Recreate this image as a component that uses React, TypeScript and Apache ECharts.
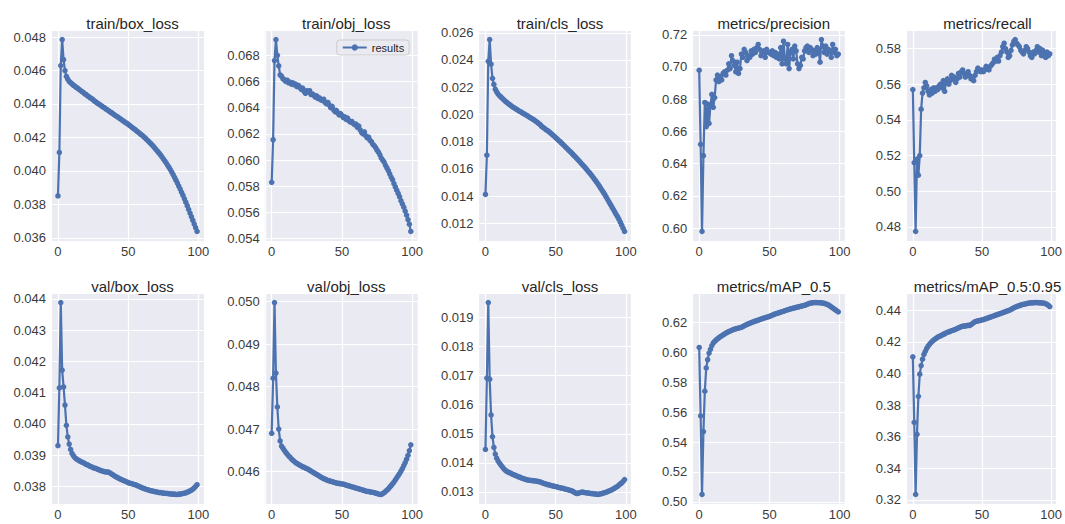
import React, { useEffect, useRef } from "react";
import * as echarts from "echarts";

const epochs: number[] = Array.from({ length: 100 }, (_, i) => i);

const trainBoxLoss = [
  0.03850, 0.04110, 0.04630, 0.04785, 0.04665, 0.04600, 0.04565, 0.04548, 0.04535, 0.04527,
  0.04520, 0.04512, 0.04507, 0.04499, 0.04495, 0.04487, 0.04482, 0.04474, 0.04470, 0.04461,
  0.04457, 0.04449, 0.04444, 0.04436, 0.04432, 0.04426, 0.04417, 0.04413, 0.04405, 0.04400,
  0.04394, 0.04389, 0.04382, 0.04378, 0.04371, 0.04366, 0.04360, 0.04353, 0.04349, 0.04342,
  0.04337, 0.04331, 0.04325, 0.04320, 0.04313, 0.04308, 0.04301, 0.04296, 0.04289, 0.04285,
  0.04278, 0.04272, 0.04265, 0.04259, 0.04252, 0.04246, 0.04239, 0.04232, 0.04226, 0.04218,
  0.04212, 0.04205, 0.04197, 0.04189, 0.04181, 0.04172, 0.04164, 0.04155, 0.04146, 0.04136,
  0.04126, 0.04116, 0.04106, 0.04095, 0.04084, 0.04072, 0.04060, 0.04048, 0.04035, 0.04022,
  0.04008, 0.03993, 0.03977, 0.03961, 0.03944, 0.03927, 0.03909, 0.03891, 0.03872, 0.03853,
  0.03833, 0.03813, 0.03792, 0.03770, 0.03748, 0.03726, 0.03704, 0.03682, 0.03660, 0.03638,
];

const trainObjLoss = [
  0.05830, 0.06155, 0.06760, 0.06920, 0.06800, 0.06720, 0.06650, 0.06640, 0.06620, 0.06615,
  0.06600, 0.06610, 0.06590, 0.06595, 0.06580, 0.06590, 0.06575, 0.06580, 0.06560, 0.06570,
  0.06555, 0.06540, 0.06550, 0.06525, 0.06510, 0.06530, 0.06520, 0.06530, 0.06500, 0.06505,
  0.06495, 0.06480, 0.06490, 0.06470, 0.06475, 0.06460, 0.06455, 0.06465, 0.06440, 0.06430,
  0.06440, 0.06420, 0.06400, 0.06410, 0.06385, 0.06370, 0.06380, 0.06360, 0.06345, 0.06355,
  0.06340, 0.06325, 0.06330, 0.06310, 0.06320, 0.06300, 0.06290, 0.06295, 0.06280, 0.06270,
  0.06275, 0.06250, 0.06260, 0.06230, 0.06210, 0.06200, 0.06215, 0.06185, 0.06170, 0.06175,
  0.06150, 0.06140, 0.06120, 0.06110, 0.06095, 0.06075, 0.06060, 0.06040, 0.06015, 0.06000,
  0.05985, 0.05960, 0.05940, 0.05920, 0.05895, 0.05870, 0.05850, 0.05820, 0.05795, 0.05770,
  0.05745, 0.05720, 0.05690, 0.05665, 0.05640, 0.05610, 0.05580, 0.05545, 0.05510, 0.05455,
];

const trainClsLoss = [
  0.01412, 0.01700, 0.02390, 0.02550, 0.02370, 0.02265, 0.02220, 0.02185, 0.02165, 0.02150,
  0.02138, 0.02128, 0.02118, 0.02108, 0.02098, 0.02090, 0.02082, 0.02073, 0.02066, 0.02058,
  0.02051, 0.02045, 0.02038, 0.02032, 0.02025, 0.02020, 0.02013, 0.02007, 0.02001, 0.01995,
  0.01989, 0.01982, 0.01976, 0.01969, 0.01963, 0.01956, 0.01948, 0.01941, 0.01932, 0.01925,
  0.01912, 0.01905, 0.01897, 0.01889, 0.01882, 0.01875, 0.01866, 0.01857, 0.01848, 0.01839,
  0.01830, 0.01820, 0.01810, 0.01801, 0.01790, 0.01781, 0.01771, 0.01760, 0.01751, 0.01740,
  0.01730, 0.01720, 0.01709, 0.01698, 0.01688, 0.01676, 0.01665, 0.01654, 0.01642, 0.01631,
  0.01620, 0.01608, 0.01596, 0.01584, 0.01572, 0.01560, 0.01546, 0.01532, 0.01518, 0.01504,
  0.01490, 0.01474, 0.01458, 0.01442, 0.01426, 0.01410, 0.01392, 0.01374, 0.01356, 0.01338,
  0.01320, 0.01302, 0.01284, 0.01266, 0.01248, 0.01230, 0.01208, 0.01186, 0.01163, 0.01140,
];

const precision = [
  0.698, 0.652, 0.598, 0.645, 0.678, 0.663, 0.677, 0.665, 0.676, 0.683,
  0.675, 0.681, 0.692, 0.695, 0.691, 0.694, 0.692, 0.696, 0.697, 0.695,
  0.698, 0.702, 0.699, 0.707, 0.704, 0.701, 0.697, 0.703, 0.696, 0.699,
  0.708, 0.706, 0.711, 0.709, 0.704, 0.707, 0.706, 0.710, 0.708, 0.711,
  0.709, 0.712, 0.714, 0.711, 0.707, 0.709, 0.710, 0.706, 0.711, 0.709,
  0.709, 0.708, 0.710, 0.707, 0.709, 0.706, 0.708, 0.705, 0.712, 0.702,
  0.716, 0.705, 0.702, 0.714, 0.699, 0.709, 0.711, 0.705, 0.713, 0.710,
  0.702, 0.699, 0.701, 0.706, 0.705, 0.710, 0.712, 0.713, 0.709, 0.712,
  0.711, 0.707, 0.710, 0.708, 0.712, 0.710, 0.703, 0.717, 0.713, 0.709,
  0.713, 0.708, 0.711, 0.710, 0.706, 0.714, 0.709, 0.711, 0.707, 0.708,
];

const recall = [
  0.557, 0.516, 0.4775, 0.518, 0.509, 0.520, 0.546, 0.555, 0.558, 0.561,
  0.559, 0.556, 0.554, 0.557, 0.555, 0.558, 0.556, 0.558, 0.557, 0.559,
  0.560, 0.558, 0.562, 0.556, 0.561, 0.563, 0.560, 0.562, 0.565, 0.563,
  0.564, 0.561, 0.563, 0.566, 0.564, 0.567, 0.568, 0.566, 0.564, 0.565,
  0.567, 0.565, 0.563, 0.564, 0.562, 0.565, 0.567, 0.569, 0.568, 0.567,
  0.568, 0.567, 0.568, 0.570, 0.569, 0.568, 0.570, 0.571, 0.572, 0.574,
  0.573, 0.575, 0.573, 0.576, 0.578, 0.581, 0.583, 0.580, 0.578, 0.575,
  0.576, 0.579, 0.582, 0.584, 0.585, 0.583, 0.582, 0.581, 0.579, 0.578,
  0.577, 0.579, 0.581, 0.580, 0.578, 0.576, 0.575, 0.578, 0.577, 0.579,
  0.581, 0.578, 0.580, 0.576, 0.579, 0.577, 0.575, 0.578, 0.576, 0.577,
];

const valBoxLoss = [
  0.03930, 0.04115, 0.04388, 0.04172, 0.04118, 0.04060, 0.03995, 0.03958, 0.03935, 0.03918,
  0.03905, 0.03898, 0.03892, 0.03888, 0.03885, 0.03882, 0.03880, 0.03877, 0.03876, 0.03873,
  0.03870, 0.03869, 0.03866, 0.03864, 0.03862, 0.03860, 0.03858, 0.03857, 0.03855, 0.03853,
  0.03851, 0.03850, 0.03848, 0.03847, 0.03846, 0.03846, 0.03845, 0.03843, 0.03840, 0.03837,
  0.03834, 0.03831, 0.03829, 0.03826, 0.03824, 0.03822, 0.03820, 0.03818, 0.03816, 0.03814,
  0.03812, 0.03810, 0.03809, 0.03808, 0.03806, 0.03805, 0.03803, 0.03801, 0.03799, 0.03797,
  0.03795, 0.03793, 0.03792, 0.03790, 0.03789, 0.03787, 0.03786, 0.03785, 0.03784, 0.03783,
  0.03782, 0.03781, 0.03780, 0.03780, 0.03779, 0.03778, 0.03778, 0.03777, 0.03777, 0.03776,
  0.03776, 0.03775, 0.03775, 0.03775, 0.03774, 0.03774, 0.03775, 0.03775, 0.03776, 0.03777,
  0.03778, 0.03779, 0.03781, 0.03783, 0.03785, 0.03788, 0.03791, 0.03795, 0.03800, 0.03805,
];

const valObjLoss = [
  0.04690, 0.04820, 0.04998, 0.04832, 0.04752, 0.04700, 0.04672, 0.04660, 0.04655, 0.04650,
  0.04645, 0.04641, 0.04637, 0.04634, 0.04630, 0.04627, 0.04624, 0.04621, 0.04619, 0.04617,
  0.04615, 0.04613, 0.04611, 0.04610, 0.04608, 0.04607, 0.04605, 0.04603, 0.04601, 0.04599,
  0.04597, 0.04595, 0.04593, 0.04591, 0.04589, 0.04587, 0.04585, 0.04583, 0.04582, 0.04580,
  0.04579, 0.04578, 0.04577, 0.04576, 0.04575, 0.04574, 0.04573, 0.04572, 0.04572, 0.04571,
  0.04571, 0.04570, 0.04569, 0.04568, 0.04567, 0.04566, 0.04565, 0.04564, 0.04563, 0.04562,
  0.04561, 0.04560, 0.04559, 0.04558, 0.04557, 0.04556, 0.04555, 0.04554, 0.04553, 0.04553,
  0.04552, 0.04551, 0.04551, 0.04550, 0.04549, 0.04548, 0.04547, 0.04546, 0.04546, 0.04548,
  0.04550, 0.04553, 0.04556, 0.04559, 0.04563, 0.04567, 0.04571, 0.04575, 0.04580, 0.04585,
  0.04590, 0.04595, 0.04601, 0.04607, 0.04614, 0.04621, 0.04629, 0.04638, 0.04649, 0.04663,
];

const valClsLoss = [
  0.01446, 0.01692, 0.01952, 0.01688, 0.01565, 0.01490, 0.01453, 0.01430, 0.01416, 0.01406,
  0.01399, 0.01392, 0.01386, 0.01380, 0.01375, 0.01371, 0.01368, 0.01366, 0.01364, 0.01361,
  0.01359, 0.01357, 0.01355, 0.01353, 0.01351, 0.01349, 0.01347, 0.01345, 0.01344, 0.01342,
  0.01341, 0.01340, 0.01339, 0.01339, 0.01338, 0.01338, 0.01337, 0.01336, 0.01335, 0.01334,
  0.01332, 0.01330, 0.01328, 0.01327, 0.01325, 0.01324, 0.01323, 0.01321, 0.01320, 0.01319,
  0.01318, 0.01317, 0.01315, 0.01314, 0.01313, 0.01312, 0.01311, 0.01309, 0.01308, 0.01307,
  0.01305, 0.01304, 0.01302, 0.01299, 0.01296, 0.01294, 0.01295, 0.01297, 0.01298, 0.01299,
  0.01298, 0.01297, 0.01296, 0.01296, 0.01295, 0.01294, 0.01294, 0.01293, 0.01292, 0.01292,
  0.01291, 0.01292, 0.01293, 0.01294, 0.01296, 0.01297, 0.01299, 0.01301, 0.01303, 0.01305,
  0.01307, 0.01310, 0.01313, 0.01316, 0.01319, 0.01323, 0.01327, 0.01331, 0.01336, 0.01342,
];

const map50 = [
  0.6032, 0.5575, 0.5050, 0.5470, 0.5740, 0.5895, 0.5950, 0.5995, 0.6020, 0.6045,
  0.6062, 0.6072, 0.6082, 0.6090, 0.6097, 0.6104, 0.6110, 0.6117, 0.6122, 0.6128,
  0.6133, 0.6138, 0.6142, 0.6147, 0.6150, 0.6154, 0.6157, 0.6159, 0.6162, 0.6164,
  0.6167, 0.6172, 0.6177, 0.6182, 0.6186, 0.6190, 0.6194, 0.6198, 0.6202, 0.6205,
  0.6209, 0.6212, 0.6215, 0.6218, 0.6222, 0.6225, 0.6228, 0.6231, 0.6234, 0.6237,
  0.6240, 0.6244, 0.6248, 0.6252, 0.6256, 0.6259, 0.6262, 0.6265, 0.6268, 0.6271,
  0.6274, 0.6278, 0.6281, 0.6284, 0.6287, 0.6290, 0.6292, 0.6295, 0.6297, 0.6300,
  0.6302, 0.6304, 0.6307, 0.6309, 0.6311, 0.6314, 0.6317, 0.6321, 0.6325, 0.6328,
  0.6330, 0.6331, 0.6332, 0.6332, 0.6332, 0.6331, 0.6331, 0.6330, 0.6329, 0.6327,
  0.6324, 0.6320, 0.6316, 0.6310, 0.6303, 0.6296, 0.6290, 0.6283, 0.6277, 0.6270,
];

const map5095 = [
  0.4105, 0.3690, 0.3235, 0.3615, 0.3855, 0.3995, 0.4050, 0.4090, 0.4120, 0.4140,
  0.4158, 0.4172, 0.4184, 0.4194, 0.4203, 0.4210, 0.4217, 0.4223, 0.4229, 0.4234,
  0.4238, 0.4243, 0.4247, 0.4251, 0.4256, 0.4260, 0.4263, 0.4266, 0.4270, 0.4273,
  0.4276, 0.4280, 0.4284, 0.4288, 0.4292, 0.4296, 0.4298, 0.4300, 0.4300, 0.4302,
  0.4305, 0.4303, 0.4308, 0.4315, 0.4322, 0.4327, 0.4330, 0.4332, 0.4334, 0.4336,
  0.4338, 0.4341, 0.4344, 0.4347, 0.4350, 0.4353, 0.4356, 0.4359, 0.4362, 0.4366,
  0.4369, 0.4372, 0.4375, 0.4378, 0.4381, 0.4384, 0.4387, 0.4391, 0.4394, 0.4397,
  0.4401, 0.4405, 0.4410, 0.4415, 0.4419, 0.4423, 0.4426, 0.4429, 0.4432, 0.4435,
  0.4437, 0.4439, 0.4441, 0.4443, 0.4445, 0.4446, 0.4447, 0.4447, 0.4448, 0.4448,
  0.4448, 0.4447, 0.4447, 0.4446, 0.4445, 0.4444, 0.4441, 0.4436, 0.4430, 0.4423,
];

const titles = [
  "train/box_loss", "train/obj_loss", "train/cls_loss", "metrics/precision", "metrics/recall",
  "val/box_loss", "val/obj_loss", "val/cls_loss", "metrics/mAP_0.5", "metrics/mAP_0.5:0.95",
];
const seriesData = [
  trainBoxLoss, trainObjLoss, trainClsLoss, precision, recall,
  valBoxLoss, valObjLoss, valClsLoss, map50, map5095,
];
const yTickSteps = [0.002, 0.002, 0.002, 0.02, 0.02, 0.001, 0.001, 0.001, 0.02, 0.02];
const yTickDecimals = [3, 3, 3, 2, 2, 3, 3, 3, 2, 2];
const xTickStep = 50;

const FONT = "'Liberation Sans', Arial, 'DejaVu Sans', sans-serif";
const LINE_COLOR = "#4C72B0";
const TEXT_COLOR = "#3b3b3b";

const LEFT0 = 51;
const COL_STEP = 213.75;
const PLOT_W = 153;
const ROW_TOPS = [30, 293];
const PLOT_H = 211;

function tickFormatter(step: number, dec: number) {
  return (v: number) => {
    const r = v / step;
    return Math.abs(r - Math.round(r)) < 1e-6 ? v.toFixed(dec) : "";
  };
}

export default function App() {
  const ref = useRef<HTMLDivElement>(null);

  useEffect(() => {
    document.body.style.margin = "0";
    if (!ref.current) return;
    const chart = echarts.init(ref.current, undefined, { renderer: "svg" });

    const grids: any[] = [];
    const xAxes: any[] = [];
    const yAxes: any[] = [];
    const series: any[] = [];
    const title: any[] = [];

    const xMin = epochs[0] - 0.05 * (epochs[epochs.length - 1] - epochs[0]);
    const xMax = epochs[epochs.length - 1] + 0.05 * (epochs[epochs.length - 1] - epochs[0]);

    seriesData.forEach((data, i) => {
      const col = i % 5;
      const row = Math.floor(i / 5);
      const left = LEFT0 + col * COL_STEP;
      const top = ROW_TOPS[row];
      const lo = Math.min(...data);
      const hi = Math.max(...data);
      const pad = (hi - lo) * 0.05;

      grids.push({
        left,
        top,
        width: PLOT_W,
        height: PLOT_H,
        show: true,
        backgroundColor: "#EAEAF2",
        borderWidth: 0,
        containLabel: false,
      });
      xAxes.push({
        type: "value",
        gridIndex: i,
        min: xMin,
        max: xMax,
        minInterval: xTickStep,
        maxInterval: xTickStep,
        axisLine: { show: false },
        axisTick: { show: false },
        splitLine: { show: true, lineStyle: { color: "#ffffff", width: 1.2 } },
        axisLabel: {
          color: TEXT_COLOR,
          fontFamily: FONT,
          fontSize: 13,
          margin: 4,
          formatter: tickFormatter(xTickStep, 0),
        },
      });
      yAxes.push({
        type: "value",
        gridIndex: i,
        min: lo - pad,
        max: hi + pad,
        minInterval: yTickSteps[i],
        maxInterval: yTickSteps[i],
        axisLine: { show: false },
        axisTick: { show: false },
        splitLine: { show: true, lineStyle: { color: "#ffffff", width: 1.2 } },
        axisLabel: {
          color: TEXT_COLOR,
          fontFamily: FONT,
          fontSize: 13,
          margin: 5,
          formatter: tickFormatter(yTickSteps[i], yTickDecimals[i]),
        },
      });
      series.push({
        type: "line",
        name: "results",
        xAxisIndex: i,
        yAxisIndex: i,
        data: epochs.map((e, k) => [e, data[k]]),
        symbol: "circle",
        symbolSize: 5.5,
        showSymbol: true,
        lineStyle: { color: LINE_COLOR, width: 2.2 },
        itemStyle: { color: LINE_COLOR },
        emphasis: { disabled: true },
      });
      title.push({
        text: titles[i],
        left: left + PLOT_W / 2,
        top: top - 19,
        textAlign: "center",
        textStyle: {
          fontFamily: FONT,
          fontSize: 15,
          fontWeight: "normal",
          color: "#262626",
        },
      });
    });

    chart.setOption({
      animation: false,
      backgroundColor: "#ffffff",
      title,
      grid: grids,
      xAxis: xAxes,
      yAxis: yAxes,
      series,
      legend: {
        data: ["results"],
        left: LEFT0 + COL_STEP + 72,
        top: ROW_TOPS[0] + 10,
        backgroundColor: "rgba(234,234,242,0.85)",
        borderColor: "#cccccc",
        borderWidth: 1,
        borderRadius: 3,
        padding: [2, 5, 2, 5],
        itemWidth: 24,
        itemHeight: 8,
        itemGap: 5,
        textStyle: { fontFamily: FONT, fontSize: 11, color: "#262626" },
      },
    });

    return () => chart.dispose();
  }, []);

  return <div ref={ref} style={{ width: 1065, height: 524 }} />;
}
